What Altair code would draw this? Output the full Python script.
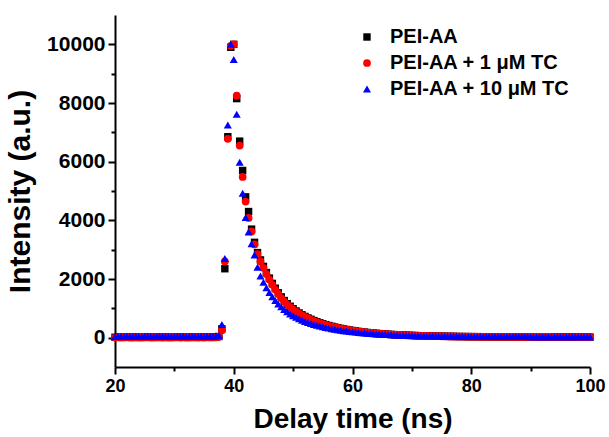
import altair as alt
import pandas as pd

# Delay time axis (ns)
time_ns = [
    20.0, 20.5, 21.0, 21.5, 22.0, 22.5, 23.0, 23.5, 24.0, 24.5,
    25.0, 25.5, 26.0, 26.5, 27.0, 27.5, 28.0, 28.5, 29.0, 29.5,
    30.0, 30.5, 31.0, 31.5, 32.0, 32.5, 33.0, 33.5, 34.0, 34.5,
    35.0, 35.5, 36.0, 36.5, 37.0, 37.5,
    38.0, 38.5, 39.0, 39.5, 40.0, 40.5, 41.0, 41.5, 42.0, 42.5, 43.0, 43.5, 44.0,
    44.5, 45.0, 45.5, 46.0, 46.5, 47.0, 47.5, 48.0, 48.5, 49.0,
    49.5, 50.0, 50.5, 51.0, 51.5, 52.0, 52.5, 53.0, 53.5, 54.0,
    54.5, 55.0, 55.5, 56.0, 56.5, 57.0, 57.5, 58.0, 58.5, 59.0,
    59.5, 60.0, 60.5, 61.0, 61.5, 62.0, 62.5, 63.0, 63.5, 64.0,
    64.5, 65.0, 65.5, 66.0, 66.5, 67.0, 67.5, 68.0, 68.5, 69.0,
    69.5, 70.0, 70.5, 71.0, 71.5, 72.0, 72.5, 73.0, 73.5, 74.0,
    74.5, 75.0, 75.5, 76.0, 76.5, 77.0, 77.5, 78.0, 78.5, 79.0,
    79.5, 80.0,
    80.5, 81.0, 81.5, 82.0, 82.5, 83.0, 83.5, 84.0, 84.5, 85.0,
    85.5, 86.0, 86.5, 87.0, 87.5, 88.0, 88.5, 89.0, 89.5, 90.0,
    90.5, 91.0, 91.5, 92.0, 92.5, 93.0, 93.5, 94.0, 94.5, 95.0,
    95.5, 96.0, 96.5, 97.0, 97.5, 98.0, 98.5, 99.0, 99.5, 100.0,
]

# PEI-AA (black squares)
pei_aa = [
    14, 18, 12, 16, 20, 13, 15, 19, 14, 12, 17, 21, 15, 13, 16, 19, 14, 17,
    15, 12, 16, 21, 14, 17, 13, 15, 18, 16, 14, 17, 15, 20, 16, 19, 24, 40,
    300, 2350, 6850, 9900, 10000, 8150, 6700, 5700, 4800, 4300, 3700, 3250, 2900,
    2650, 2430, 2220, 2030, 1850, 1685, 1530, 1390, 1265, 1160,
    1070, 985, 910, 842, 780, 724, 672, 626, 583, 544,
    508, 474, 443, 414, 387, 362, 339, 317, 297, 278,
    261, 244, 229, 215, 201, 189, 177, 166, 156, 147,
    139, 131, 123, 116, 110, 104, 98, 93, 88, 84,
    80, 76, 72, 69, 66, 63, 60, 57, 55, 52,
    50, 48, 46, 45, 43, 42, 40, 39, 38, 37,
    36, 35,
    34, 33, 33, 32, 31, 31, 30, 30, 29, 29,
    29, 28, 28, 27, 27, 27, 26, 26, 26, 25,
    25, 25, 24, 24, 24, 24, 23, 23, 23, 23,
    22, 22, 22, 22, 21, 21, 21, 21, 21, 20,
]

# PEI-AA + 1 uM TC (red circles)
pei_aa_1um = [
    4, 8, 2, 6, 10, 3, 5, 9, 4, 2, 7, 11, 5, 3, 6, 9, 4, 7,
    5, 2, 6, 11, 4, 7, 3, 5, 8, 6, 4, 7, 5, 10, 6, 9, 14, 30,
    250, 2600, 6780, 9950, 10000, 8250, 6550, 5480, 4640, 4080, 3620, 3180, 2850,
    2600, 2380, 2170, 1980, 1800, 1640, 1490, 1350, 1230, 1130,
    1040, 960, 885, 820, 760, 705, 655, 610, 568, 530,
    495, 462, 432, 404, 378, 354, 331, 310, 290, 272,
    255, 239, 224, 210, 197, 185, 174, 163, 153, 144,
    136, 128, 121, 114, 108, 102, 96, 91, 86, 82,
    78, 74, 70, 67, 64, 61, 58, 56, 53, 51,
    49, 47, 45, 44, 42, 41, 39, 38, 37, 36,
    35, 34,
    33, 33, 32, 31, 31, 30, 30, 29, 29, 28,
    28, 28, 27, 27, 26, 26, 26, 25, 25, 25,
    24, 24, 24, 23, 23, 23, 23, 22, 22, 22,
    22, 21, 21, 21, 21, 20, 20, 20, 20, 20,
]

# PEI-AA + 10 uM TC (blue triangles)
pei_aa_10um = [
    42, 46, 40, 44, 48, 41, 43, 47, 42, 40, 45, 49, 43, 41, 44, 47, 42, 45,
    43, 40, 44, 49, 42, 45, 41, 43, 46, 44, 42, 45, 43, 48, 44, 47, 55, 75,
    450, 2700, 7250, 10000, 9480, 7620, 5980, 4920, 4100, 3600, 3200, 2820, 2400,
    2100, 1890, 1700, 1540, 1395, 1265, 1150, 1050, 960, 880,
    810, 748, 692, 642, 596, 555, 517, 482, 450, 421,
    394, 369, 346, 325, 305, 287, 270, 254, 239, 225,
    212, 200, 189, 178, 168, 159, 150, 142, 135, 128,
    122, 116, 110, 104, 99, 94, 89, 85, 81, 78,
    75, 72, 69, 66, 64, 61, 59, 57, 55, 53,
    52, 50, 49, 48, 47, 46, 45, 44, 43, 43,
    42, 42,
    41, 41, 40, 40, 40, 39, 39, 39, 38, 38,
    38, 37, 37, 37, 37, 36, 36, 36, 36, 35,
    35, 35, 35, 35, 34, 34, 34, 34, 34, 33,
    33, 33, 33, 33, 33, 32, 32, 32, 32, 32,
]

series_names = ["PEI-AA", "PEI-AA + 1 \u03bcM TC", "PEI-AA + 10 \u03bcM TC"]
series_colors = ["#000000", "#ff0000", "#0000ff"]
series_shapes = ["square", "circle", "triangle-up"]
series_sizes = [55, 65, 110]

x_ticks = [20, 30, 40, 50, 60, 70, 80, 90, 100]
y_ticks = [0, 1000, 2000, 3000, 4000, 5000, 6000, 7000, 8000, 9000, 10000]

assert len(time_ns) == len(pei_aa) == len(pei_aa_1um) == len(pei_aa_10um)

rows = []
for name, vals in zip(series_names, [pei_aa, pei_aa_1um, pei_aa_10um]):
    for t, v in zip(time_ns, vals):
        rows.append({"t": t, "v": v, "series": name})
df = pd.DataFrame(rows)

FONT = "Liberation Sans"

legend = alt.Legend(
    orient="none", legendX=242, legendY=12, title=None,
    labelFont=FONT, labelFontSize=20, labelFontWeight="bold", labelColor="black",
    labelLimit=0, symbolSize=60, symbolStrokeWidth=0, labelOffset=13,
    rowPadding=6, padding=0,
)

chart = alt.Chart(df).mark_point(filled=True, opacity=1).encode(
    x=alt.X(
        "t:Q",
        scale=alt.Scale(domain=[20, 100], nice=False, zero=False),
        axis=alt.Axis(
            values=x_ticks, grid=False,
            labelExpr="datum.value % 20 == 0 ? datum.label : ''",
            tickSize={"condition": {"test": "datum.value % 20 != 0", "value": 4}, "value": 7},
            tickWidth=2, tickColor="black", domainWidth=2, domainColor="black",
            labelFont=FONT, labelFontSize=18, labelFontWeight="bold", labelColor="black",
            labelPadding=3, labelFlush=False, labelOverlap=False,
            title="Delay time (ns)", titleFont=FONT, titleFontSize=28,
            titleFontWeight="bold", titleColor="black", titlePadding=10,
        ),
    ),
    y=alt.Y(
        "v:Q",
        scale=alt.Scale(domain=[-1000, 11000], nice=False, zero=False),
        axis=alt.Axis(
            values=y_ticks, grid=False,
            labelExpr="datum.value % 2000 == 0 ? datum.label : ''",
            tickSize={"condition": {"test": "datum.value % 2000 != 0", "value": 4}, "value": 7},
            tickWidth=2, tickColor="black", domainWidth=2, domainColor="black",
            labelFont=FONT, labelFontSize=21, labelFontWeight="bold", labelColor="black",
            labelPadding=3, labelOverlap=False, format="d",
            title="Intensity (a.u.)", titleFont=FONT, titleFontSize=30,
            titleFontWeight="bold", titleColor="black",
            titleX=-80, titleY=176, titleAngle=270,
        ),
    ),
    color=alt.Color("series:N", scale=alt.Scale(domain=series_names, range=series_colors), legend=legend),
    shape=alt.Shape("series:N", scale=alt.Scale(domain=series_names, range=series_shapes), legend=legend),
    size=alt.Size("series:N", scale=alt.Scale(domain=series_names, range=series_sizes), legend=None),
).properties(
    width=475, height=352,
    padding={"left": 115, "top": 15, "right": 19, "bottom": 70},
    autosize=alt.AutoSizeParams(type="none"),
    background="white",
).configure_view(stroke=None)

chart.save("out.html", embed_options={"renderer": "svg", "actions": False})
